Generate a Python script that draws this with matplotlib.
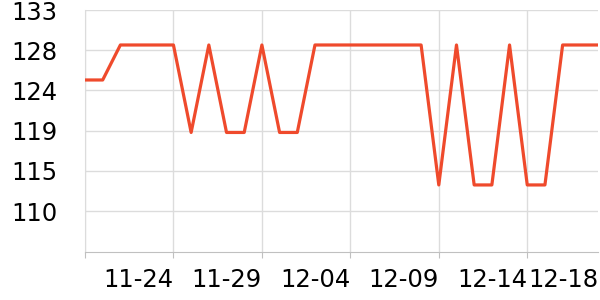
import numpy as np
import pandas as pd
import matplotlib
matplotlib.use('Agg')
import matplotlib.pyplot as plt

# daily values, 11-19 .. 12-18
dates = pd.date_range('2023-11-19', '2023-12-18', freq='D')
values = [125, 125, 129, 129, 129, 129, 119, 129, 119, 119,
          129, 119, 119, 129, 129, 129, 129, 129, 129, 129,
          113, 129, 113, 113, 129, 113, 113, 129, 129, 129]
tick_idx = [0, 5, 10, 15, 20, 25, 29]
y_ticks = [110, 114.6, 119.2, 123.8, 128.4, 133]
y_min = 105.3

labels = [d.strftime('%m-%d') for d in dates]
x = np.arange(len(values))

fig = plt.figure(figsize=(6, 3), dpi=100)
ax = fig.add_axes([85 / 600, 1 - 252.3 / 300, (598 - 85) / 600, (252.3 - 10) / 300])

ax.plot(x, values, color='#ef4a2c', lw=2.3, solid_joinstyle='round', zorder=3)

ax.set_xlim(0, len(values) - 1)
ax.set_ylim(y_min, y_ticks[-1])
ax.set_yticks(y_ticks)
ax.set_yticklabels(['%.0f' % v for v in y_ticks])
ax.set_xticks(tick_idx)
ax.set_xticklabels([''] + [labels[i] for i in tick_idx[1:]], ha='right')

ax.grid(True, color='#dcdcdc', lw=1)
ax.set_axisbelow(True)
for s in ['top', 'right']:
    ax.spines[s].set_visible(False)
ax.spines['left'].set_color('#dcdcdc')
ax.spines['bottom'].set_color('#c0c0c0')
ax.tick_params(axis='y', length=0, pad=20, labelsize=17.5)
ax.tick_params(axis='x', length=4, color='#c0c0c0', pad=7, labelsize=17.5)

# no grid or tick at the last (end) label
ax.xaxis.get_gridlines()[-1].set_visible(False)
ax.xaxis.get_major_ticks()[-1].tick1line.set_visible(False)

fig.savefig('out.png', dpi=100)
